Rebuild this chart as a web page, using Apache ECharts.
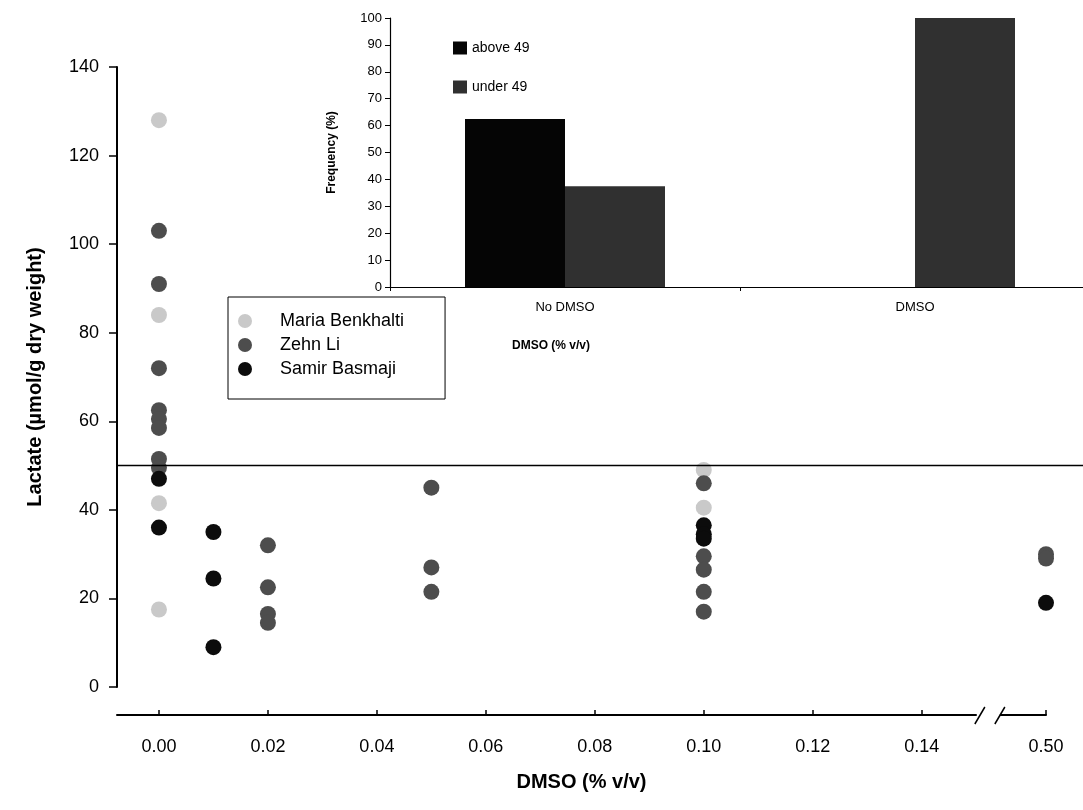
<!DOCTYPE html>
<html>
<head>
<meta charset="utf-8">
<title>Lactate vs DMSO</title>
<script src="https://cdn.jsdelivr.net/npm/echarts@6/dist/echarts.min.js"></script>
<style>
  html, body { margin: 0; padding: 0; background: #ffffff; }
  #chart { width: 1083px; height: 810px; }
</style>
</head>
<body>
<div id="chart"></div>
<script>
// ---- data ---------------------------------------------------------------
// [DMSO % v/v, lactate µmol/g dry weight]
const mariaBenkhalti = [[0, 128], [0, 84], [0, 41.5], [0, 17.5], [0.10, 49], [0.10, 40.5]];
const zehnLi = [
  [0, 103], [0, 91], [0, 72], [0, 62.5], [0, 60.5], [0, 58.5], [0, 51.5], [0, 49.5],
  [0.02, 32], [0.02, 22.5], [0.02, 16.5], [0.02, 14.5],
  [0.05, 45], [0.05, 27], [0.05, 21.5],
  [0.10, 46], [0.10, 29.5], [0.10, 26.5], [0.10, 21.5], [0.10, 17],
  [0.50, 30], [0.50, 29]
];
const samirBasmaji = [
  [0, 47], [0, 36], [0.01, 35], [0.01, 24.5], [0.01, 9],
  [0.10, 36.5], [0.10, 34.5], [0.10, 33.5], [0.50, 19]
];
const seriesNames = ['Maria Benkhalti', 'Zehn Li', 'Samir Basmaji'];
const xTickValues = [0, 0.02, 0.04, 0.06, 0.08, 0.10, 0.12, 0.14, 0.50];
const xBreak = [0.15, 0.49];
const threshold = 50;

// inset: share of samples above / under 49
const insetCategories = ['No DMSO', 'DMSO'];
const insetSeriesNames = ['above 49', 'under 49'];
const above49 = [62.5, 0];
const under49 = [37.5, 100];

// ---- style --------------------------------------------------------------
const FONT = '"Liberation Sans", Arial, Helvetica, sans-serif';
const BLACK = '#000000';
const pointColors = ['#c9c9c9', '#4d4d4d', '#0c0c0c'];

const chart = echarts.init(document.getElementById('chart'), null, { renderer: 'canvas' });

const scatterSeries = [mariaBenkhalti, zehnLi, samirBasmaji].map((d, i) => ({
  name: seriesNames[i],
  type: 'scatter',
  xAxisIndex: 0,
  yAxisIndex: 0,
  data: d,
  symbol: 'circle',
  symbolSize: 16,
  itemStyle: { color: pointColors[i], opacity: 1 },
  z: 3 + i,
  silent: true
}));

const option = {
  backgroundColor: '#ffffff',
  animation: false,
  textStyle: { fontFamily: FONT, color: BLACK },
  grid: [
    // main scatter plot
    { left: 117, right: 37, top: 67, bottom: 123, outerBoundsMode: 'none' },
    // full-width band for the threshold line
    { left: 117, right: 0, top: 67, bottom: 123, outerBoundsMode: 'none' },
    // inset bar chart
    { left: 390, right: -7, top: 18, bottom: 523, outerBoundsMode: 'none' }
  ],
  xAxis: [
    {
      type: 'value', gridIndex: 0,
      min: -0.0077, max: 0.5,
      breaks: [{ start: xBreak[0], end: xBreak[1], gap: '1.65%' }],
      breakArea: { show: false },
      offset: 28,
      splitLine: { show: false },
      axisLine: { show: true, onZero: false, lineStyle: { color: BLACK, width: 2 } },
      axisTick: { show: true, inside: true, length: 5, customValues: xTickValues, lineStyle: { color: BLACK, width: 1.5 } },
      axisLabel: {
        customValues: xTickValues,
        formatter: v => Number(v).toFixed(2),
        fontFamily: FONT, fontSize: 18, color: BLACK, margin: 23
      },
      name: 'DMSO (% v/v)', nameLocation: 'middle', nameGap: 57,
      nameTextStyle: { fontFamily: FONT, fontSize: 20, fontWeight: 'bold', color: BLACK }
    },
    { type: 'value', gridIndex: 1, min: 0, max: 1, show: false },
    {
      type: 'category', gridIndex: 2, data: insetCategories,
      boundaryGap: true,
      axisLine: { show: true, onZero: false, lineStyle: { color: BLACK, width: 1.2 } },
      axisTick: { show: true, length: 4, lineStyle: { color: BLACK, width: 1 } },
      axisLabel: { fontFamily: FONT, fontSize: 13, color: BLACK, margin: 14 },
      splitLine: { show: false }
    }
  ],
  yAxis: [
    {
      type: 'value', gridIndex: 0, min: 0, max: 140, interval: 20,
      splitLine: { show: false },
      axisLine: { show: true, onZero: false, lineStyle: { color: BLACK, width: 2 } },
      axisTick: { show: true, length: 8, lineStyle: { color: BLACK, width: 1.5 } },
      axisLabel: { fontFamily: FONT, fontSize: 18, color: BLACK, margin: 18 },
      name: 'Lactate (µmol/g dry weight)', nameLocation: 'middle', nameGap: 72,
      nameTextStyle: { fontFamily: FONT, fontSize: 20, fontWeight: 'bold', color: BLACK }
    },
    { type: 'value', gridIndex: 1, min: 0, max: 140, show: false },
    {
      type: 'value', gridIndex: 2, min: 0, max: 100, interval: 10,
      splitLine: { show: false },
      axisLine: { show: true, onZero: false, lineStyle: { color: BLACK, width: 1.2 } },
      axisTick: { show: true, length: 5, lineStyle: { color: BLACK, width: 1 } },
      axisLabel: { fontFamily: FONT, fontSize: 13, color: BLACK, margin: 8 },
      name: 'Frequency (%)', nameLocation: 'middle', nameGap: 52,
      nameTextStyle: { fontFamily: FONT, fontSize: 12, fontWeight: 'bold', color: BLACK }
    }
  ],
  legend: [
    {
      data: seriesNames,
      orient: 'vertical', left: 228, top: 297,
      backgroundColor: '#ffffff', borderColor: BLACK, borderWidth: 1, borderRadius: 0,
      padding: [15, 41, 21, 10],
      itemWidth: 16, itemHeight: 14, itemGap: 6,
      icon: 'circle',
      textStyle: { fontFamily: FONT, fontSize: 18, color: BLACK, padding: [0, 0, 0, 22] },
      selectedMode: false
    },
    {
      data: insetSeriesNames,
      orient: 'vertical', left: 453, top: 41,
      padding: 0,
      itemWidth: 14, itemHeight: 13, itemGap: 25,
      icon: 'rect',
      textStyle: { fontFamily: FONT, fontSize: 14, color: BLACK },
      selectedMode: false
    }
  ],
  series: [
    ...scatterSeries,
    {
      name: 'threshold',
      type: 'line', xAxisIndex: 1, yAxisIndex: 1,
      data: [[0, threshold], [1, threshold]],
      symbol: 'none',
      lineStyle: { color: BLACK, width: 1.5 },
      z: 10, silent: true
    },
    {
      name: insetSeriesNames[0], type: 'bar', xAxisIndex: 2, yAxisIndex: 2,
      data: above49, barWidth: 100, barGap: '0%',
      itemStyle: { color: '#050505' }, silent: true
    },
    {
      name: insetSeriesNames[1], type: 'bar', xAxisIndex: 2, yAxisIndex: 2,
      data: under49, barWidth: 100, barGap: '0%',
      itemStyle: { color: '#303030' }, silent: true
    }
  ],
  graphic: [
    {
      type: 'text', z: 20,
      style: {
        x: 551, y: 346, text: 'DMSO (% v/v)',
        font: 'bold 12px ' + FONT, fill: BLACK,
        textAlign: 'center', textVerticalAlign: 'middle'
      }
    }
  ]
};

chart.setOption(option);

// axis-break marks (double slash) drawn where the scale jumps
const p0 = chart.convertToPixel({ xAxisIndex: 0 }, xBreak[0]);
const p1 = chart.convertToPixel({ xAxisIndex: 0 }, xBreak[1]);
const axisY = 810 - 123 + 28;
const mid = (p0 + p1) / 2 + 6;
chart.setOption({
  graphic: [
    option.graphic[0],
    {
      type: 'rect', z: 30,
      shape: { x: mid - 10, y: axisY - 3, width: 20, height: 6 },
      style: { fill: '#ffffff' }
    },
    {
      type: 'line', z: 31,
      shape: { x1: mid - 15, y1: axisY + 9, x2: mid - 5, y2: axisY - 8 },
      style: { stroke: BLACK, lineWidth: 1.5 }
    },
    {
      type: 'line', z: 31,
      shape: { x1: mid + 5, y1: axisY + 9, x2: mid + 15, y2: axisY - 8 },
      style: { stroke: BLACK, lineWidth: 1.5 }
    }
  ]
});
</script>
</body>
</html>
